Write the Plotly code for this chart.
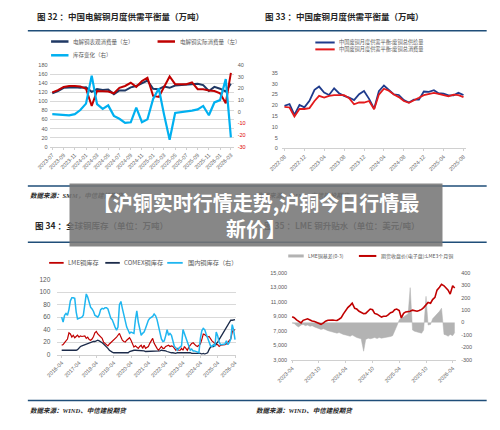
import pandas as pd
import plotly.graph_objects as go

W, H = 500, 430
OFF = 8  # the page body margin pushes the plot 8px right and down
CJK = "Noto Sans CJK SC"
NUM = "Liberation Sans, Noto Sans CJK SC"


def px_x(p):
    return (p - OFF) / W


def px_y(p):
    return 1 - (p - OFF) / H


# 图32 中国电解铜月度供需平衡量（万吨）
months_32 = pd.date_range("2023-07-01", periods=33, freq="MS")
apparent_use = [118, 123, 130, 131, 131, 130, 131, 121, 127, 125, 126, 116, 124, 124, 131, 134, 140,
                146, 128, 127, 133, 130, 135, 136, 137, 137, 139, 136, 123, 132, 128, 122, 139]
actual_use = [120, 125, 132, 134, 134, 133, 128, 90, 123, 123, 122, 118, 130, 134, 141, 132, 145,
              152, 112, 110, 133, 155, 138, 138, 138, 142, 127, 127, 124, 123, 118, 96, 163]
stock_change = [-2, -2.5, -3, -3, -2, 1.5, 7, 31, 6.5, 2.5, 5.5, -3.5, -6, -9.5, -9, 3.5, -9,
                -6.5, 11, 20, -2, -24, -1, -0.5, 0.5, 1, 2, 5, -3, 8, 10, 28, -22]
right_ticks_32 = [40, 30, 20, 10, 0, -10, -20, -30]

# 图33 中国废铜月度供需平衡量（万吨）
months_33 = pd.date_range("2022-08-01", periods=37, freq="MS")
scrap_supply = [19.8, 20.6, 15.6, 20.2, 19.1, 22.1, 27.2, 28.7, 25.9, 24.8, 27.9, 25.6, 24.4,
                23.6, 22.4, 25.2, 26.6, 23.0, 18.4, 26.6, 29.2, 27.3, 25.1, 24.8, 22.4, 21.3,
                22.6, 22.6, 26.4, 26.2, 27.0, 25.6, 25.4, 24.6, 24.6, 25.8, 24.8]
scrap_use = [19.3, 19.0, 14.8, 18.3, 18.3, 18.7, 22.0, 24.4, 23.6, 24.4, 24.7, 24.8, 24.7,
             23.3, 20.5, 21.3, 21.3, 22.0, 18.2, 25.0, 27.7, 26.8, 25.0, 23.8, 22.0, 21.2,
             22.2, 23.5, 24.7, 25.3, 25.8, 25.3, 24.7, 24.2, 25.0, 24.7, 23.8]

# 图34 全球铜库存（万吨）
months_34 = pd.date_range("2016-04-01", periods=121, freq="MS")
lme_stock = [15, 16, 19, 23, 25, 35, 33, 28, 31, 27, 30, 31,
             28, 30, 29, 30, 30, 26, 28, 24, 23, 25, 29, 35,
             37, 33, 31, 28, 26, 20, 18, 16, 14, 17, 19, 21,
             23, 26, 28, 31, 34, 28, 23, 21, 20, 23, 26, 27,
             23, 17, 12, 14, 12, 10, 13, 15, 10, 15, 10, 12,
             13, 18, 23, 26, 18, 13, 10, 7, 10, 13, 10, 10,
             13, 14, 15, 13, 14, 13, 10, 7, 10, 7, 7, 10,
             7, 13, 10, 7, 12, 15, 18, 19, 16, 14, 13, 15,
             17, 24, 33, 32, 30, 28, 29, 25, 22, 20, 18, 16,
             16, 13, 15, 15, 15, 16, 17, 20, 22, 25, 36, 40,
             39]
comex_stock = [7, 7, 6, 6, 6, 6, 6, 6, 6, 7, 7, 8,
               11, 13, 14, 15, 15, 16, 17, 18, 19, 20, 21, 21,
               22, 23, 22, 21, 19, 17, 15, 13, 10, 7, 5, 4,
               3, 3, 4, 4, 3, 3, 4, 4, 3, 3, 3, 5,
               6, 7, 7, 7, 7, 7, 6, 6, 6, 6, 5, 5,
               5, 5, 5, 5, 5, 5, 6, 6, 6, 7, 7, 6,
               6, 5, 4, 4, 3, 3, 2, 2, 3, 3, 3, 4,
               4, 4, 4, 3, 3, 3, 2, 2, 3, 3, 2, 2,
               2, 1, 2, 1, 2, 3, 8, 12, 13, 13, 15, 17,
               20, 24, 28, 31, 35, 40, 45, 49, 52, 55, 55, 56,
               56]
china_stock = [60, 52, 63, 66, 63, 72, 86, 91, 91, 90, 68, 57,
               58, 59, 60, 63, 80, 97, 92, 82, 76, 73, 69, 63,
               61, 60, 64, 72, 74, 73, 75, 75, 73, 66, 58, 56,
               49, 44, 39, 44, 80, 85, 74, 62, 50, 44, 39, 34,
               36, 35, 34, 55, 70, 52, 40, 31, 34, 36, 42, 50,
               55, 58, 59, 61, 65, 62, 56, 46, 32, 25, 21, 22,
               30, 40, 31, 34, 31, 22, 13, 11, 7, 10, 12, 14,
               40, 33, 28, 19, 13, 7, 9, 6, 6, 5, 4, 3,
               26, 38, 42, 40, 33, 27, 19, 14, 13, 16, 13, 36,
               30, 20, 16, 16, 17, 17, 22, 16, 19, 25, 48, 40,
               24]

# 图35 LME 铜升贴水（美元/吨）
days_35 = [d for m in pd.date_range("2023-04-01", periods=37, freq="MS")
           for d in (m, m + pd.Timedelta(days=14))]
lme_price = [8950, 8800, 8500, 8300, 8100, 8450, 8600, 8650, 8500, 8350,
             8300, 8200, 8050, 7900, 8100, 8330, 8450, 8520, 8500, 8450,
             8430, 8600, 8800, 9300, 9800, 10200, 10500, 10800, 10100, 10000,
             9700, 9500, 9350, 9400, 9750, 10000, 9900, 9400, 9300, 9100,
             8900, 9000, 9000, 9200, 9500, 9600, 9900, 10000, 9800, 8800,
             9400, 9600, 9600, 9700, 9850, 9750, 9700, 9800, 9950, 10200,
             10500, 10900, 10800, 11300, 11600, 12600, 13000, 13400, 13200, 12900,
             12600, 12050, 13200, 12900]
lme_basis = [-5, -8, -25, -35, -20, -15, -25, -20, -30, -25,
             -35, -40, -45, -55, -50, -60, -65, -70, -75, -80,
             -85, -80, -90, -95, -100, -105, -110, -100, -115, -120,
             -125, -130, -230, -135, -125, -130, -125, -120, -128, -120,
             -125, -122, -118, -120, -112, -105, -60, -30, 20, 40,
             45, 55, 70, 280, -60, -70, -75, -80, -85, -60,
             210, -20, -15, 30, 50, 60, 90, 115, -95, -100,
             -110, -95, -105, -80]
left_ticks_35 = [15000, 13000, 11000, 9000, 7000, 5000, 3000]
right_ticks_35 = [400, 300, 200, 100, 0, -100, -200, -300]

fig = go.Figure()

fig.add_trace(go.Scatter(x=months_32, y=apparent_use, mode="lines", xaxis="x", yaxis="y",
                         line=dict(color="#1f3864", width=2)))
fig.add_trace(go.Scatter(x=months_32, y=actual_use, mode="lines", xaxis="x", yaxis="y",
                         line=dict(color="#c00000", width=2)))
fig.add_trace(go.Scatter(x=months_32, y=stock_change, mode="lines", xaxis="x", yaxis="y2",
                         line=dict(color="#00b0f0", width=2.2)))

fig.add_trace(go.Scatter(x=months_33, y=scrap_supply, mode="lines", xaxis="x2", yaxis="y3",
                         line=dict(color="#1f3b8c", width=1.8)))
fig.add_trace(go.Scatter(x=months_33, y=scrap_use, mode="lines", xaxis="x2", yaxis="y3",
                         line=dict(color="#e31a1c", width=1.8)))

fig.add_trace(go.Scatter(x=months_34, y=lme_stock, mode="lines", xaxis="x3", yaxis="y4",
                         line=dict(color="#c00000", width=1.2)))
fig.add_trace(go.Scatter(x=months_34, y=comex_stock, mode="lines", xaxis="x3", yaxis="y4",
                         line=dict(color="#1c2b4a", width=1.3)))
fig.add_trace(go.Scatter(x=months_34, y=china_stock, mode="lines", xaxis="x3", yaxis="y5",
                         line=dict(color="#1fb6f0", width=1.5)))

# basis sits on the base axis (right side), price on the overlay so it draws on top
fig.add_trace(go.Scatter(x=days_35, y=lme_basis, mode="lines", xaxis="x4", yaxis="y6",
                         fill="tozeroy", fillcolor="#b3b3b3", line=dict(color="#b3b3b3", width=0.5)))
fig.add_trace(go.Scatter(x=days_35, y=lme_price, mode="lines", xaxis="x4", yaxis="y7",
                         line=dict(color="#c00000", width=1.6)))

tick_font = dict(family=NUM, size=5.5, color="#595959")
date_axis = dict(type="date", tickformat="%Y-%m", tickangle=-45, tickfont=tick_font,
                 showgrid=False, zeroline=False, showline=True, linecolor="#d0d0d0",
                 ticks="outside", ticklen=2, tickcolor="#d0d0d0")

fig.update_layout(
    width=W, height=H, margin=dict(l=0, r=0, t=0, b=0),
    paper_bgcolor="white", plot_bgcolor="white", showlegend=False,
    xaxis=dict(date_axis, domain=[px_x(35.4), px_x(225.6)], anchor="y",
               range=["2023-06-16", "2026-03-16"], tick0="2023-07-01", dtick="M2"),
    yaxis=dict(domain=[px_y(145), px_y(62)], anchor="x", range=[0, 180], dtick=20,
               showgrid=True, gridcolor="#d9d9d9", gridwidth=0.7, zeroline=False,
               tickfont=tick_font, ticklabelstandoff=1),
    yaxis2=dict(overlaying="y", side="right", anchor="x", range=[-30, 40],
                tickvals=right_ticks_32,
                ticktext=[str(v) if v >= 0 else '<span style="color:#e00000">%d</span>' % v
                          for v in right_ticks_32],
                showgrid=False, zeroline=False, tickfont=tick_font, ticklabelstandoff=3),
    xaxis2=dict(date_axis, domain=[px_x(275.4), px_x(465.6)], anchor="y3",
                range=["2022-07-16", "2025-08-16"], tick0="2022-08-01", dtick="M4"),
    yaxis3=dict(domain=[px_y(146.7), px_y(70)], anchor="x2", range=[0, 35], dtick=5,
                showgrid=False, zeroline=False, tickfont=tick_font, ticklabelstandoff=3),
    xaxis3=dict(date_axis, domain=[px_x(43.5), px_x(228.5)], anchor="y4",
                range=["2016-01-01", "2026-05-01"], tick0="2016-04-01", dtick="M12"),
    yaxis4=dict(domain=[px_y(356.3), px_y(280)], anchor="x3", range=[0, 120], dtick=20,
                showgrid=True, gridcolor="#d9d9d9", gridwidth=0.7, zeroline=False,
                tickfont=dict(family=NUM, size=6.5, color="#595959"), ticklabelstandoff=6),
    yaxis5=dict(overlaying="y4", anchor="x3", range=[0, 120], visible=False),
    xaxis4=dict(date_axis, domain=[px_x(285), px_x(455.5)], anchor="y6",
                range=["2023-03-25", "2026-04-25"], tick0="2023-04-01", dtick="M6"),
    yaxis6=dict(domain=[px_y(361.7), px_y(273)], anchor="x4", side="right",
                range=[-300, 400], tickvals=right_ticks_35,
                ticktext=[str(v) for v in right_ticks_35],
                showticklabels=True, ticklabeloverflow="allow", showgrid=False,
                zeroline=False, tickfont=tick_font, ticklabelstandoff=4),
    yaxis7=dict(overlaying="y6", anchor="x4", side="left", range=[3000, 15000],
                tickvals=left_ticks_35, ticktext=["{:,}".format(v) for v in left_ticks_35],
                showticklabels=True, showgrid=False, zeroline=False,
                tickfont=tick_font, ticklabelstandoff=3),
)

shapes = []
annotations = []


def rule(y, x0=13, x1=487):
    shapes.append(dict(type="line", xref="paper", yref="paper", x0=px_x(x0), x1=px_x(x1),
                       y0=px_y(y), y1=px_y(y), line=dict(color="#1f4e79", width=1.5)))


def key(x0, x1, y, color, width):
    shapes.append(dict(type="line", xref="paper", yref="paper", x0=px_x(x0), x1=px_x(x1),
                       y0=px_y(y), y1=px_y(y), line=dict(color=color, width=width)))


def text(x, y, s, size, color="#595959", family=CJK, xanchor="left"):
    annotations.append(dict(xref="paper", yref="paper", x=px_x(x), y=px_y(y), text=s,
                            showarrow=False, xanchor=xanchor, yanchor="middle",
                            font=dict(family=family, size=size, color=color)))


for y in (27, 185, 242, 403):
    rule(y)

# titles
text(20, 12.5, "<b>图 32 ：中国电解铜月度供需平衡量（万吨）</b>", 8.5, "#262626")
text(256, 12.5, "<b>图 33 ：中国废铜月度供需平衡量（万吨）</b>", 8.5, "#262626")
text(18, 225, "<b>图 34 ：全球铜库存（单位：万吨）</b>", 8.5, "#262626")
text(255, 225, "<b>图 35 ：LME 铜升贴水（单位：美元/吨）</b>", 8.5, "#262626")

# sources
src_font = "Liberation Serif, Noto Sans CJK SC"
text(13, 195, "<b><i>数据来源：SMM，中信建投期货</i></b>", 6.5, "#262626", src_font)
text(247, 195, "<b><i>数据来源：SMM，中信建投期货</i></b>", 6.5, "#262626", src_font)
text(13, 413, "<b><i>数据来源：WIND、中信建投期货</i></b>", 6.5, "#262626", src_font)
text(247, 413, "<b><i>数据来源：WIND、中信建投期货</i></b>", 6.5, "#262626", src_font)

# legends
key(37, 55, 38, "#1f3864", 2.5)
text(58, 38, "电解铜表观消费量（左）", 5.5)
key(147, 165, 38, "#c00000", 2.5)
text(168, 38, "电解铜实际消费量（左）", 5.5)
key(37, 55, 52, "#00b0f0", 2.5)
text(58, 52, "库存变化（右）", 5.5)

key(310, 330, 39, "#1f3b8c", 2)
text(332, 39, "中国废铜月度供需平衡:废铜总供给量", 5.2)
key(310, 330, 46, "#e31a1c", 2)
text(332, 46, "中国废铜月度供需平衡:废铜总消费量", 5.2)

key(35, 50, 263, "#c00000", 1.8)
text(52, 263, "LME铜库存", 6.2)
key(93, 108, 263, "#1c2b4a", 1.8)
text(110, 263, "COMEX铜库存", 6.2)
key(157, 173, 263, "#1fb6f0", 1.8)
text(176, 263, "国内铜库存（右）", 6.2)

key(282, 298, 256, "#b3b3b3", 3)
text(300, 256, "LME铜基差(0-3)", 5)
key(355, 373, 256, "#c00000", 2)
text(376, 256, "期货收盘价(电子盘):LME3个月铜", 5)

# overlay banner
annotations.append(dict(xref="paper", yref="paper", x=px_x(249), y=px_y(214),
                        text="<b>【沪铜实时行情走势,沪铜今日行情最<br>新价】</b>",
                        showarrow=False, xanchor="center", yanchor="middle",
                        width=372, height=62, borderpad=0, align="center", valign="middle",
                        bgcolor="rgba(118,118,118,0.88)",
                        font=dict(family=CJK, size=20, color="white")))

fig.update_layout(shapes=shapes, annotations=annotations)

fig.write_html("out.html")
